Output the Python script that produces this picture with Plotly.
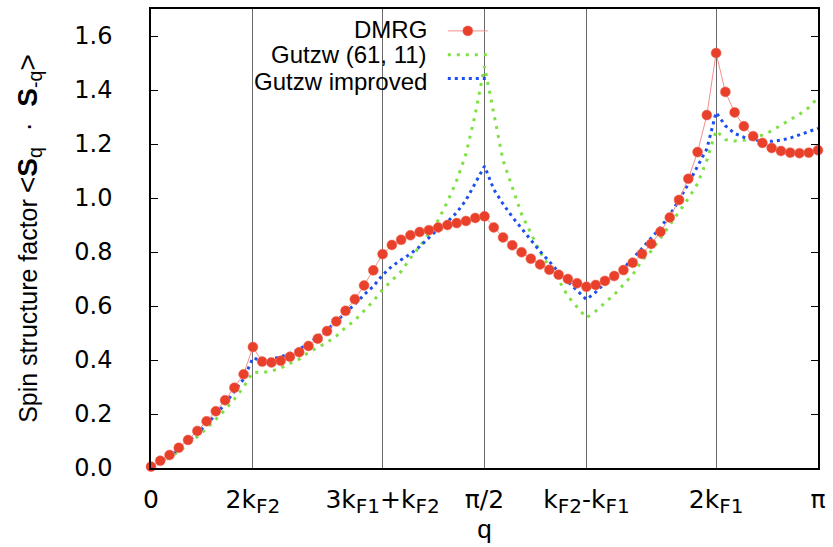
import plotly.graph_objects as go

# momentum index n, q = n*pi/72
k_index = list(range(73))

dmrg = [0.005, 0.027, 0.048, 0.075, 0.104, 0.137, 0.173, 0.21, 0.251, 0.297, 0.347, 0.448,
        0.394, 0.391, 0.397, 0.412, 0.429, 0.452, 0.479, 0.507, 0.543, 0.582, 0.625, 0.676, 0.732, 0.792,
        0.826, 0.845, 0.862, 0.874, 0.881, 0.891, 0.900, 0.907, 0.915, 0.926, 0.932,
        0.891, 0.854, 0.825, 0.799, 0.775, 0.754, 0.734, 0.716, 0.700, 0.684, 0.671,
        0.678, 0.693, 0.711, 0.733, 0.760, 0.793, 0.830, 0.875, 0.928, 0.993, 1.071, 1.170, 1.307, 1.537,
        1.393, 1.317, 1.266, 1.229, 1.204, 1.185, 1.174, 1.168, 1.166, 1.168, 1.177]

gutzw_61_11 = [0.0, 0.018, 0.038, 0.062, 0.088, 0.116, 0.146, 0.18, 0.215, 0.255, 0.30, 0.355,
               0.353, 0.359, 0.370, 0.387, 0.403, 0.428, 0.446, 0.465, 0.489, 0.52, 0.547, 0.581, 0.618, 0.661,
               0.695, 0.728, 0.777, 0.82, 0.869, 0.918, 0.986, 1.065, 1.163, 1.31, 1.488,
               1.31, 1.14, 1.04, 0.94, 0.87, 0.80, 0.745, 0.697, 0.636, 0.594, 0.556,
               0.581, 0.612, 0.642, 0.679, 0.716, 0.768, 0.804, 0.851, 0.9, 0.949, 0.998, 1.053, 1.14, 1.25,
               1.216, 1.211, 1.214, 1.224, 1.233, 1.249, 1.268, 1.29, 1.31, 1.335, 1.372]

gutzw_improved = [0.0, 0.022, 0.045, 0.07, 0.098, 0.128, 0.162, 0.198, 0.238, 0.282, 0.33, 0.407,
                  0.399, 0.403, 0.412, 0.424, 0.44, 0.461, 0.485, 0.511, 0.544, 0.575, 0.606, 0.642, 0.673, 0.715,
                  0.747, 0.771, 0.793, 0.82, 0.851, 0.885, 0.912, 0.946, 0.992, 1.053, 1.118,
                  1.032, 0.978, 0.93, 0.888, 0.845, 0.802, 0.765, 0.725, 0.69, 0.658, 0.624,
                  0.651, 0.685, 0.71, 0.74, 0.775, 0.814, 0.851, 0.891, 0.937, 0.992, 1.053, 1.118, 1.182, 1.317,
                  1.268, 1.239, 1.225, 1.216, 1.211, 1.21, 1.214, 1.222, 1.233, 1.246, 1.258]

SUB = '<sub><span style="font-size:20px">%s</span></sub>'
x_tick_index = [0, 11, 25, 36, 47, 61, 72]
x_tick_labels = ["0", "2k" + SUB % "F2", "3k" + SUB % "F1" + "+k" + SUB % "F2", "π/2",
                 "k" + SUB % "F2" + "-k" + SUB % "F1", "2k" + SUB % "F1", "π"]
y_tick_vals = [0.0, 0.2, 0.4, 0.6, 0.8, 1.0, 1.2, 1.4, 1.6]
series_names = ["DMRG", "Gutzw (61, 11)", "Gutzw improved"]

FONT = "Liberation Sans, Arial, Helvetica, sans-serif"
TICKFONT = "DejaVu Sans, Verdana, sans-serif"

fig = go.Figure()
fig.add_trace(go.Scatter(
    x=k_index, y=gutzw_61_11, mode="lines", name=" ",
    line=dict(color="#7EE043", width=3, dash="3px,6px"), cliponaxis=False, legendrank=2))
fig.add_trace(go.Scatter(
    x=k_index, y=gutzw_improved, mode="lines", name=" ",
    line=dict(color="#1C4EF0", width=3, dash="3px,4px"), cliponaxis=False, legendrank=3))
fig.add_trace(go.Scatter(
    x=k_index, y=dmrg, mode="lines+markers", name=" ",
    line=dict(color="#F2908A", width=1),
    marker=dict(color="#E8402A", size=10, line=dict(color="#F07060", width=0.5)),
    cliponaxis=False, legendrank=1))

L, R, T, B = 151, 10, 7, 79
W, H = 833, 547
pw, ph = W - L - R, H - T - B

def px_x(x):
    return (x - L) / pw

def px_y(y):
    return (H - B - y) / ph

annotations = []
for name, yc in zip(series_names, [28, 53, 80]):
    annotations.append(dict(text=name, x=px_x(431), y=px_y(yc), xref="paper", yref="paper",
                            xanchor="right", yanchor="middle", showarrow=False,
                            font=dict(family=FONT, size=24, color="black")))

ytitle = ("<span style=\"font-size:25px\">Spin structure factor</span> "
          "<span style=\"font-size:28px\">&lt;<b>S</b><sub>q</sub>"
          "  ·  <b>S</b><sub>-q</sub>&gt;</span>")

fig.update_layout(
    width=W, height=H,
    margin=dict(l=L, r=R, t=T, b=B),
    paper_bgcolor="white", plot_bgcolor="white",
    font=dict(family=FONT, size=22, color="black"),
    showlegend=True,
    legend=dict(x=px_x(445), y=px_y(12), xanchor="left", yanchor="top",
                bgcolor="rgba(0,0,0,0)", font=dict(size=16), itemwidth=40,
                tracegroupgap=0, traceorder="normal"),
    annotations=annotations,
    xaxis=dict(range=[0, 72], tickvals=x_tick_index, ticktext=x_tick_labels,
               showgrid=True, gridcolor="#6a6a6a", gridwidth=1, zeroline=False,
               showline=True, linecolor="black", linewidth=1.5, mirror=True,
               ticks="", ticklabelstandoff=8,
               tickfont=dict(family=TICKFONT, size=25),
               title=dict(text="q", font=dict(family=FONT, size=26), standoff=0)),
    yaxis=dict(range=[0, 1.7], tickvals=y_tick_vals, tickformat=".1f",
               showgrid=False, zeroline=False,
               showline=True, linecolor="black", linewidth=1.5, mirror="ticks",
               ticks="inside", ticklen=7, tickcolor="black", tickwidth=1,
               ticklabelstandoff=32, tickfont=dict(family=TICKFONT, size=24),
               title=dict(text=ytitle, font=dict(family=FONT, size=22), standoff=31)),
)

fig.write_html("out.html", config={"displayModeBar": False},
               post_script="document.body.style.margin='0px';document.body.style.overflow='hidden';")
